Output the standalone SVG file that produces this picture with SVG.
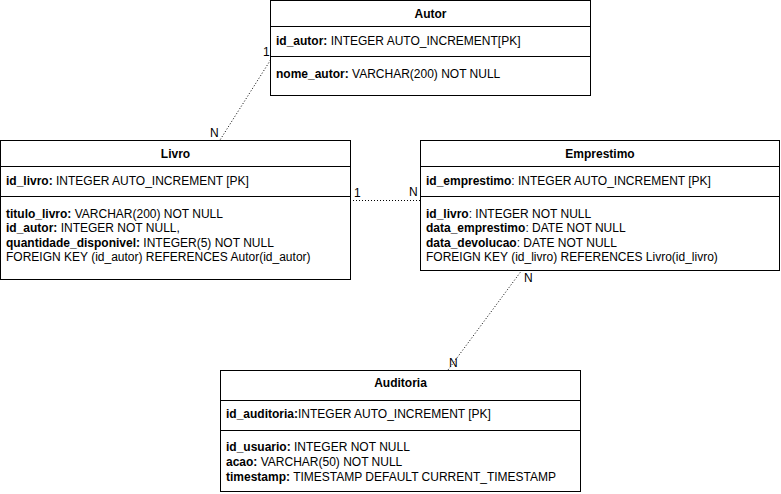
<svg xmlns="http://www.w3.org/2000/svg" width="781" height="494" viewBox="0 0 781 494">
<style>
.box{fill:#fff;stroke:#000;stroke-width:1}
.div{stroke:#000;stroke-width:1;fill:none}
text{font-family:"Liberation Sans",Arial,Helvetica,sans-serif;font-size:12px;fill:#000}
.t{font-weight:bold;text-anchor:middle}
.b{font-weight:bold}
.con{stroke:#000;stroke-width:1;stroke-dasharray:1 2;fill:none}
</style>
<rect width="781" height="494" fill="#fff"/>
<g id="connectors">
<line class="con" x1="270.5" y1="60" x2="220" y2="140"/>
<line class="con" x1="350" y1="200.5" x2="420" y2="200.5"/>
<line class="con" x1="522" y1="270" x2="448" y2="370"/>
<text x="263" y="56">1</text>
<text x="210" y="137">N</text>
<text x="354" y="197">1</text>
<text x="409" y="196">N</text>
<text x="524" y="282">N</text>
<text x="449" y="367">N</text>
</g>
<g id="autor">
<rect class="box" x="270.5" y="0.5" width="320" height="95"/>
<line class="div" x1="270.5" y1="26.5" x2="590.5" y2="26.5"/>
<line class="div" x1="270.5" y1="56.5" x2="590.5" y2="56.5"/>
<text class="t" x="430.5" y="18">Autor</text>
<text x="276" y="45"><tspan class="b">id_autor:</tspan> INTEGER AUTO_INCREMENT[PK]</text>
<text x="276" y="78"><tspan class="b">nome_autor:</tspan> VARCHAR(200) NOT NULL</text>
</g>
<g id="livro">
<rect class="box" x="0.5" y="140.5" width="350" height="139"/>
<line class="div" x1="0.5" y1="166.5" x2="350.5" y2="166.5"/>
<line class="div" x1="0.5" y1="196.5" x2="350.5" y2="196.5"/>
<text class="t" x="175.5" y="158">Livro</text>
<text x="6" y="185"><tspan class="b">id_livro:</tspan> INTEGER AUTO_INCREMENT [PK]</text>
<text x="6" y="218"><tspan class="b">titulo_livro:</tspan> VARCHAR(200) NOT NULL</text>
<text x="6" y="232"><tspan class="b">id_autor:</tspan> INTEGER NOT NULL,</text>
<text x="6" y="246.5"><tspan class="b">quantidade_disponivel:</tspan> INTEGER(5) NOT NULL</text>
<text x="6" y="261">FOREIGN KEY (id_autor) REFERENCES Autor(id_autor)</text>
</g>
<g id="emprestimo">
<rect class="box" x="420.5" y="140.5" width="359" height="130"/>
<line class="div" x1="420.5" y1="166.5" x2="779.5" y2="166.5"/>
<line class="div" x1="420.5" y1="196.5" x2="779.5" y2="196.5"/>
<text class="t" x="600" y="158">Emprestimo</text>
<text x="426" y="185"><tspan class="b">id_emprestimo</tspan>: INTEGER AUTO_INCREMENT [PK]</text>
<text x="426" y="218"><tspan class="b">id_livro</tspan>: INTEGER NOT NULL</text>
<text x="426" y="232"><tspan class="b">data_emprestimo</tspan>: DATE NOT NULL</text>
<text x="426" y="246.5"><tspan class="b">data_devolucao</tspan>: DATE NOT NULL</text>
<text x="426" y="261">FOREIGN KEY (id_livro) REFERENCES Livro(id_livro)</text>
</g>
<g id="auditoria">
<rect class="box" x="220.5" y="370.5" width="360" height="121"/>
<line class="div" x1="220.5" y1="400.5" x2="580.5" y2="400.5"/>
<line class="div" x1="220.5" y1="430.5" x2="580.5" y2="430.5"/>
<text class="t" x="400.5" y="387">Auditoria</text>
<text x="226" y="418"><tspan class="b">id_auditoria:</tspan>INTEGER AUTO_INCREMENT [PK]</text>
<text x="226" y="451"><tspan class="b">id_usuario:</tspan> INTEGER NOT NULL</text>
<text x="226" y="466"><tspan class="b">acao:</tspan> VARCHAR(50) NOT NULL</text>
<text x="226" y="481"><tspan class="b">timestamp:</tspan> TIMESTAMP DEFAULT CURRENT_TIMESTAMP</text>
</g>
</svg>
